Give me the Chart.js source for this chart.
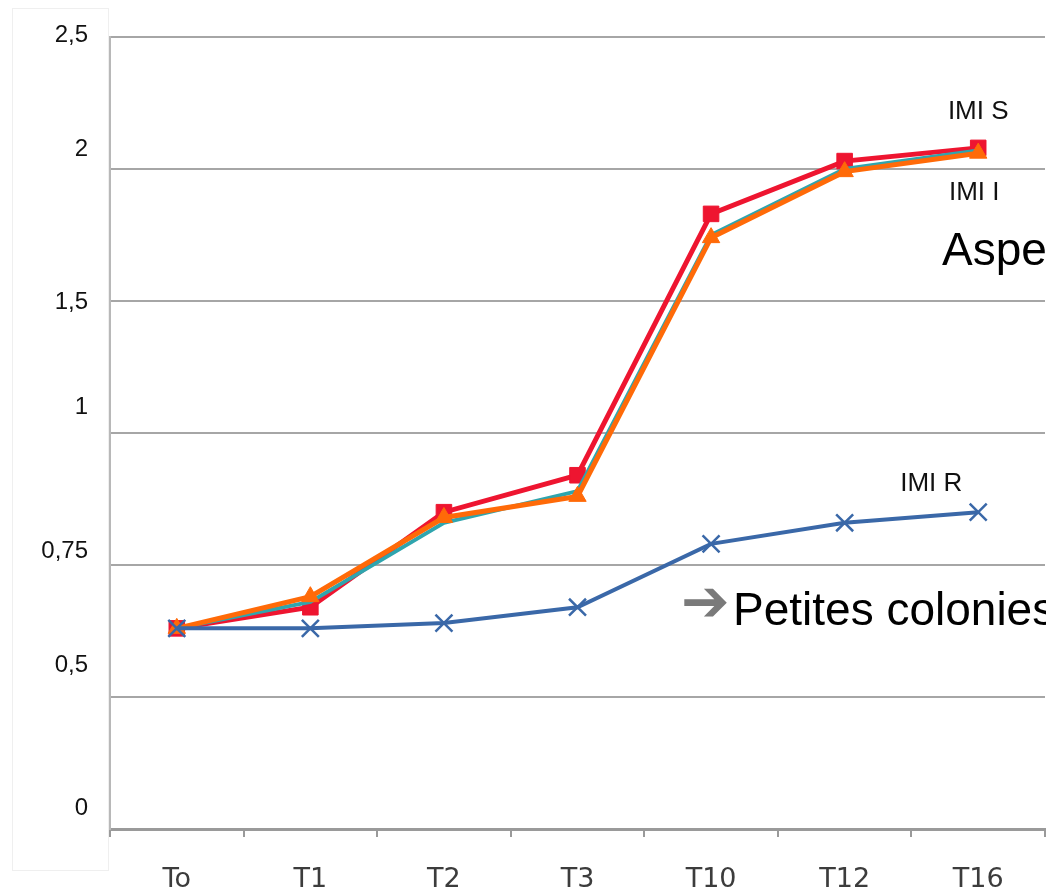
<!DOCTYPE html>
<html lang="fr">
<head>
<meta charset="utf-8">
<title>Croissance IMI</title>
<script src="https://cdn.jsdelivr.net/npm/chart.js@4/dist/chart.umd.min.js"></script>
<style>
  html, body { margin: 0; padding: 0; background: #ffffff; }
  #wrap { width: 1046px; height: 889px; position: relative; }
</style>
</head>
<body>
<div id="wrap"><canvas id="c" width="1046" height="889"></canvas></div>
<script>
// Temps de mesure
const categories = ['To', 'T1', 'T2', 'T3', 'T10', 'T12', 'T16'];

// Graduations de l'axe vertical (espacées régulièrement)
const tickLabels = ['0', '0,5', '0,75', '1', '1,5', '2', '2,5'];
const tickValues = [0, 0.5, 0.75, 1, 1.5, 2, 2.5];

// Valeurs mesurées par souche
const imiS = [0.63, 0.67, 0.85, 0.92, 1.83, 2.03, 2.08];
const imiI = [0.63, 0.69, 0.84, 0.88, 1.74, 1.99, 2.06];
const serie4 = [0.63, 0.68, 0.83, 0.89, 1.75, 2.00, 2.07];
const imiR = [0.63, 0.63, 0.64, 0.67, 0.79, 0.83, 0.85];

// Position d'une valeur sur l'axe à graduations régulières (interpolation entre graduations)
function axisPos(v) {
  for (let i = 0; i < tickValues.length - 1; i++) {
    const a = tickValues[i], b = tickValues[i + 1];
    if (v <= b || i === tickValues.length - 2) {
      return i + (v - a) / (b - a);
    }
  }
  return tickValues.length - 1;
}
const toAxis = arr => arr.map(axisPos);

const RED = '#ee1530';
const ORANGE = '#ff6a08';
const TEAL = '#2fa5ae';
const BLUE = '#3a68a8';

// Cadre clair derrière les graduations verticales
const frameBox = {
  id: 'frameBox',
  beforeDraw(chart) {
    const ctx = chart.ctx;
    ctx.save();
    ctx.fillStyle = '#ffffff';
    ctx.fillRect(0, 0, chart.width, chart.height);
    ctx.strokeStyle = '#efefef';
    ctx.lineWidth = 1;
    ctx.strokeRect(12.5, 8.5, 96, 862);
    ctx.restore();
  }
};

// Étiquettes de l'axe vertical, décalées au-dessus de leur ligne
const yLabels = {
  id: 'yLabels',
  afterDraw(chart) {
    const ctx = chart.ctx;
    const y = chart.scales.y;
    const shift = [-21, -32, -14, -26, 1, -20, -2];
    ctx.save();
    ctx.font = '24px "Liberation Sans", Arial, sans-serif';
    ctx.fillStyle = '#111111';
    ctx.textAlign = 'right';
    ctx.textBaseline = 'middle';
    tickLabels.forEach((t, i) => {
      ctx.fillText(t, 88, y.getPixelForValue(i) + shift[i]);
    });
    ctx.restore();
  }
};

// Noms des souches et commentaires
const notes = {
  id: 'notes',
  afterDatasetsDraw(chart) {
    const ctx = chart.ctx;
    const pt = (ds, idx) => chart.getDatasetMeta(ds).data[idx];
    const last = categories.length - 1;
    ctx.save();
    ctx.fillStyle = '#111111';
    ctx.textBaseline = 'middle';
    ctx.textAlign = 'center';
    ctx.font = '26px "Liberation Sans", Arial, sans-serif';
    const s = pt(3, last), i = pt(1, last), r = pt(0, last);
    ctx.fillText('IMI S', s.x, s.y - 36);
    ctx.fillText('IMI I', i.x - 4, i.y + 40);
    ctx.fillText('IMI R', r.x - 47, r.y - 28);

    ctx.textAlign = 'left';
    ctx.textBaseline = 'alphabetic';
    ctx.font = '46px "Liberation Sans", Arial, sans-serif';
    ctx.fillStyle = '#000000';
    ctx.fillText('Aspe', 942, 265);
    ctx.fillText('Petites colonies', 733, 625);

    ctx.fillStyle = '#7a7a7a';
    ctx.font = '58px "DejaVu Sans", sans-serif';
    ctx.textBaseline = 'middle';
    ctx.fillText('\u2794', 681, 606);
    ctx.restore();
  }
};

const lineBase = { tension: 0, fill: false, clip: false };

new Chart(document.getElementById('c'), {
  type: 'line',
  data: {
    labels: categories,
    datasets: [
      Object.assign({}, lineBase, {
        label: 'IMI R', data: toAxis(imiR), order: 0,
        borderColor: BLUE, backgroundColor: BLUE, borderWidth: 4,
        pointStyle: 'crossRot', pointRadius: 12, pointBorderWidth: 2.5,
        pointBorderColor: BLUE
      }),
      Object.assign({}, lineBase, {
        label: 'IMI I', data: toAxis(imiI), order: 1,
        borderColor: ORANGE, backgroundColor: ORANGE, borderWidth: 5,
        pointStyle: 'triangle', pointRadius: 10, pointBorderWidth: 1
      }),
      Object.assign({}, lineBase, {
        label: 'Série 4', data: toAxis(serie4), order: 2,
        borderColor: TEAL, backgroundColor: TEAL, borderWidth: 4,
        pointRadius: 0
      }),
      Object.assign({}, lineBase, {
        label: 'IMI S', data: toAxis(imiS), order: 3,
        borderColor: RED, backgroundColor: RED, borderWidth: 5,
        pointStyle: 'rect', pointRadius: 11, pointBorderWidth: 1
      })
    ]
  },
  options: {
    responsive: false,
    animation: false,
    events: [],
    layout: { autoPadding: false, padding: { left: 110, top: 37, right: 1, bottom: 0 } },
    plugins: {
      legend: { display: false },
      tooltip: { enabled: false }
    },
    scales: {
      x: {
        type: 'category',
        offset: true,
        grid: {
          display: true, drawOnChartArea: false, drawTicks: true,
          tickLength: 8, color: '#9a9a9a', lineWidth: 2, offset: true
        },
        border: { display: true, color: '#9a9a9a', width: 3 },
        ticks: {
          color: '#3c3c3c', padding: 29, maxRotation: 0,
          font: { family: '"DejaVu Sans", Verdana, sans-serif', size: 27, lineHeight: 1 }
        },
        afterFit(scale) {
          scale.paddingLeft = 0;
          scale.paddingRight = 0;
          scale.height = 60;
        }
      },
      y: {
        min: 0, max: tickValues.length - 1,
        ticks: { display: false, stepSize: 1 },
        grid: { color: '#a6a6a6', lineWidth: 2, drawTicks: false },
        border: { display: true, color: '#b8b8b8', width: 2 }
      }
    }
  },
  plugins: [frameBox, yLabels, notes]
});
</script>
</body>
</html>
